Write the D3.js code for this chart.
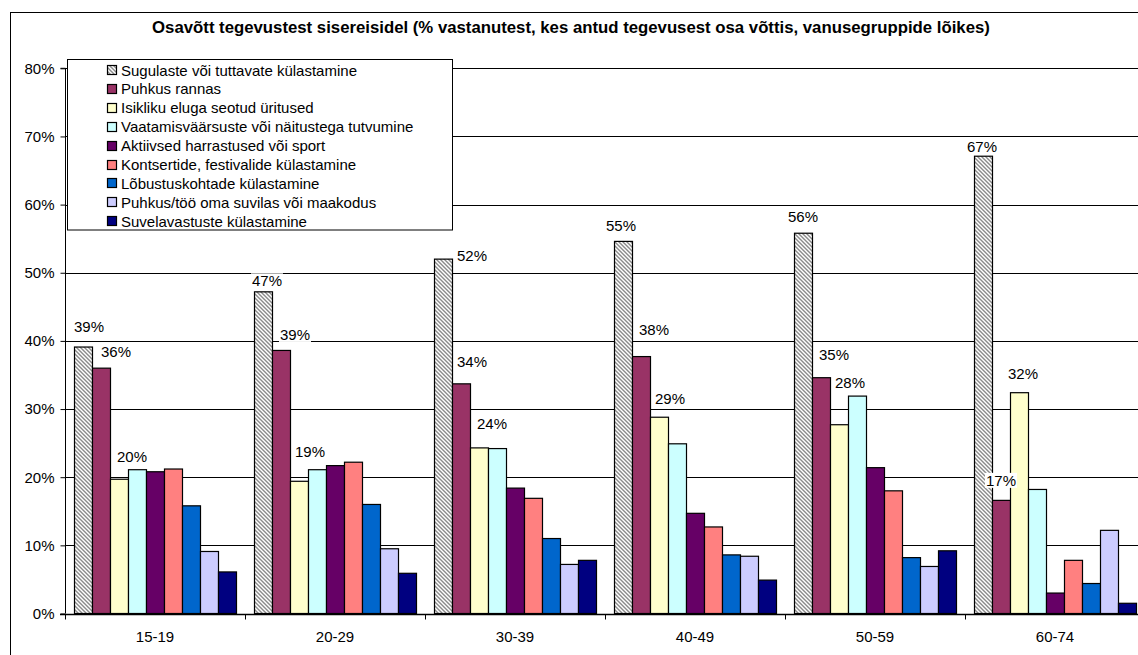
<!DOCTYPE html>
<html>
<head>
<meta charset="utf-8">
<script src="https://cdn.jsdelivr.net/npm/d3@7"></script>
<style>
  html, body { margin: 0; padding: 0; background: #fff; }
  svg { display: block; font-family: "Liberation Sans", Arial, sans-serif; }
</style>
</head>
<body>
<svg id="chart" width="1138" height="655"></svg>
<script>
// ---- data ----
const title = "Osavõtt tegevustest sisereisidel (% vastanutest, kes antud tegevusest osa võttis, vanusegruppide lõikes)";
const categories = ["15-19", "20-29", "30-39", "40-49", "50-59", "60-74"];
const seriesNames = [
  "Sugulaste või tuttavate külastamine",
  "Puhkus rannas",
  "Isikliku eluga seotud üritused",
  "Vaatamisväärsuste või näitustega tutvumine",
  "Aktiivsed harrastused või sport",
  "Kontsertide, festivalide külastamine",
  "Lõbustuskohtade külastamine",
  "Puhkus/töö oma suvilas või maakodus",
  "Suvelavastuste külastamine"
];
const sugulaste      = [39.1, 47.2, 52.0, 54.6, 55.8, 67.1];
const puhkusRannas   = [36.0, 38.6, 33.7, 37.7, 34.6, 16.6];
const isikliku       = [19.7, 19.4, 24.3, 28.8, 27.7, 32.4];
const vaatamis       = [21.1, 21.1, 24.2, 24.9, 31.9, 18.2];
const aktiivsed      = [20.8, 21.7, 18.4, 14.7, 21.4, 3.0];
const kontserdid     = [21.2, 22.2, 16.9, 12.7, 18.0, 7.8];
const lobustus       = [15.8, 16.0, 11.0, 8.6, 8.2, 4.4];
const suvila         = [9.1, 9.5, 7.2, 8.4, 6.9, 12.2];
const suvelavastused = [6.1, 5.9, 7.8, 4.9, 9.2, 1.5];
const yTicks = [0, 10, 20, 30, 40, 50, 60, 70, 80];
const labeledSeries = [0, 1, 2];

// ---- styles ----
const seriesFills = ["url(#hatch)", "#993366", "#FFFFCC", "#CCFFFF", "#660066", "#FF8080", "#0066CC", "#CCCCFF", "#000080"];
// label nudges [dx, dy] relative to the bar's top centre (per labelled series, per category)
const labelOffsets = [
  [[6, -21], [4, -11], [29, -4], [-2, -16], [0, -17], [-1, -10]],
  [[15, -17], [14, -16], [11, -22], [13, -27], [13, -23], [0, -20]],
  [[13, -23], [11, -30], [13, -24], [11, -19], [11, -42], [4, -19]]
];

const values = [sugulaste, puhkusRannas, isikliku, vaatamis, aktiivsed, kontserdid, lobustus, suvila, suvelavastused];

const svg = d3.select("#chart");
const FONT = 15;

// pattern
const defs = svg.append("defs");
const pat = defs.append("pattern").attr("id", "hatch").attr("patternUnits", "userSpaceOnUse")
  .attr("width", 4).attr("height", 4);
pat.append("rect").attr("width", 4).attr("height", 4).attr("fill", "#fff");
pat.append("path").attr("d", "M-1,-1 L5,5 M-1,3 L1,5 M3,-1 L5,1")
  .attr("stroke", "#8a8a8a").attr("stroke-width", 1.4);

// outer frame
svg.append("rect").attr("x", 10.5).attr("y", 12.5).attr("width", 1200).attr("height", 700)
  .attr("fill", "#fff").attr("stroke", "#000").attr("stroke-width", 1);

// scales
const x0 = d3.scaleBand().domain(categories).range([65, 1145]).paddingInner(0).paddingOuter(0);
const x1 = d3.scaleBand().domain(d3.range(seriesNames.length)).range([0, x0.bandwidth()])
  .paddingInner(0).paddingOuter(0.5);
const y = d3.scaleLinear().domain([0, 80]).range([613.5, 68.3]);

// gridlines
svg.append("g").selectAll("line").data(yTicks.filter(t => t > 0)).join("line")
  .attr("x1", 65).attr("x2", 1145)
  .attr("y1", d => Math.round(y(d)) + 0.5).attr("y2", d => Math.round(y(d)) + 0.5)
  .attr("stroke", "#000").attr("stroke-width", 1);

// bars
const groups = svg.append("g").selectAll("g").data(categories).join("g")
  .attr("transform", d => `translate(${x0(d)},0)`);
groups.selectAll("rect").data((c, ci) => values.map((arr, si) => ({ si, v: arr[ci] }))).join("rect")
  .attr("x", d => x1(d.si) + 0.5)
  .attr("width", x1.bandwidth())
  .attr("y", d => y(d.v))
  .attr("height", d => y(0) - y(d.v))
  .attr("fill", d => seriesFills[d.si])
  .attr("stroke", "#000").attr("stroke-width", 1.2);

// y axis
const yAxis = d3.axisLeft(y).tickValues(yTicks).tickFormat(d => d + "%").tickSize(5).tickPadding(6);
const ya = svg.append("g").attr("transform", "translate(65.5,0)").call(yAxis);
ya.selectAll("text").attr("font-size", FONT).attr("fill", "#000").attr("font-family", "Liberation Sans, Arial, sans-serif");
ya.selectAll("line").attr("stroke", "#000");
ya.select(".domain").attr("stroke", "#000").attr("d", `M-5,${y(80)}H0V${y(0)}`);

// x axis
const xAxis = d3.axisBottom(x0).tickSize(0).tickPadding(17);
const xa = svg.append("g").attr("transform", `translate(0,${Math.round(y(0)) + 0.5})`).call(xAxis);
xa.selectAll("text").attr("font-size", FONT).attr("fill", "#000").attr("font-family", "Liberation Sans, Arial, sans-serif");
xa.select(".domain").attr("stroke", "#000").attr("stroke-width", 1.3).attr("d", "M60,0H1145");
// boundary tick marks
xa.append("g").selectAll("line").data(categories).join("line")
  .attr("x1", d => x0(d) + 0.5).attr("x2", d => x0(d) + 0.5)
  .attr("y1", 0).attr("y2", 5).attr("stroke", "#000");

// data labels
const lg = svg.append("g");
labeledSeries.forEach((si, li) => {
  categories.forEach((c, ci) => {
    const v = values[si][ci];
    const cx = x0(c) + x1(si) + x1.bandwidth() / 2 + labelOffsets[li][ci][0];
    const cy = y(v) + labelOffsets[li][ci][1];
    const g = lg.append("g");
    const t = g.append("text").attr("x", cx).attr("y", cy)
      .attr("text-anchor", "middle").attr("dominant-baseline", "central")
      .attr("font-size", FONT).attr("fill", "#000")
      .text(Math.round(v) + "%");
    const bb = t.node().getBBox();
    g.insert("rect", "text").attr("x", bb.x - 1).attr("y", bb.y + 1)
      .attr("width", bb.width + 2).attr("height", bb.height - 2).attr("fill", "#fff");
  });
});

// legend
const legend = svg.append("g");
legend.append("rect").attr("x", 67.5).attr("y", 59.5).attr("width", 385).attr("height", 170.5)
  .attr("fill", "#fff").attr("stroke", "#000").attr("stroke-width", 1);
seriesNames.forEach((name, i) => {
  const cy = 70 + i * 18.9;
  legend.append("rect").attr("x", 107.5).attr("y", Math.round(cy - 5) + 0.5).attr("width", 9).attr("height", 9)
    .attr("fill", seriesFills[i]).attr("stroke", "#000").attr("stroke-width", 1.2);
  legend.append("text").attr("x", 121).attr("y", cy).attr("dominant-baseline", "central")
    .attr("font-size", FONT).attr("fill", "#000").text(name);
});

// title
const tt = svg.append("text").attr("x", 571).attr("y", 27).attr("text-anchor", "middle")
  .attr("dominant-baseline", "central").attr("font-weight", "bold").attr("font-size", 15)
  .attr("fill", "#000").text(title);
const tw = tt.node().getComputedTextLength();
tt.attr("font-size", 15 * 838 / tw);
</script>
</body>
</html>
